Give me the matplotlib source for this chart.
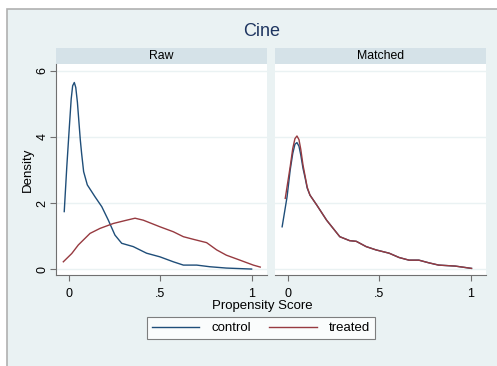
import matplotlib
matplotlib.use('Agg')
import matplotlib.pyplot as plt
from matplotlib.patches import Rectangle

plt.rcParams['font.family'] = ['Liberation Sans', 'DejaVu Sans']

# Raw panel
raw_ctrl_x = [-0.026, -0.012, 0.002, 0.012, 0.02, 0.029, 0.037, 0.046, 0.055, 0.062, 0.069,
              0.08, 0.10, 0.142, 0.179, 0.215, 0.251, 0.288, 0.351, 0.424, 0.497, 0.57,
              0.625, 0.698, 0.77, 0.86, 0.998]
raw_ctrl_y = [1.74, 3.1, 4.31, 5.15, 5.55, 5.65, 5.5, 5.05, 4.4, 3.9, 3.5,
              2.95, 2.55, 2.19, 1.89, 1.48, 1.03, 0.78, 0.68, 0.48, 0.37, 0.22,
              0.12, 0.12, 0.07, 0.03, 0.0]
raw_trt_x = [-0.031, 0.015, 0.051, 0.115, 0.169, 0.242, 0.315, 0.361, 0.406, 0.497, 0.57,
             0.625, 0.68, 0.752, 0.807, 0.86, 0.934, 1.007, 1.045]
raw_trt_y = [0.22, 0.47, 0.73, 1.08, 1.23, 1.38, 1.48, 1.54, 1.48, 1.28, 1.13,
             0.98, 0.90, 0.80, 0.58, 0.42, 0.27, 0.12, 0.06]

# Matched panel
tail_x = [0.12, 0.157, 0.211, 0.283, 0.337, 0.373, 0.427, 0.481, 0.553, 0.607, 0.661,
          0.715, 0.769, 0.823, 0.914, 1.003]
tail_y = [2.24, 1.94, 1.48, 0.98, 0.86, 0.84, 0.68, 0.58, 0.48, 0.35, 0.27,
          0.27, 0.19, 0.12, 0.09, 0.02]
m_ctrl_x = [-0.032, -0.005, 0.012, 0.026, 0.038, 0.049, 0.06, 0.07, 0.082, 0.094, 0.105] + tail_x
m_ctrl_y = [1.28, 2.19, 3.0, 3.5, 3.78, 3.83, 3.72, 3.45, 3.05, 2.75, 2.45] + tail_y
m_trt_x = [-0.015, 0.012, 0.026, 0.038, 0.049, 0.06, 0.07, 0.082, 0.094, 0.105] + tail_x
m_trt_y = [2.14, 3.1, 3.65, 3.95, 4.03, 3.92, 3.62, 3.15, 2.8, 2.48] + tail_y

panels = ['Raw', 'Matched']
series = [[(raw_ctrl_x, raw_ctrl_y), (raw_trt_x, raw_trt_y)],
          [(m_ctrl_x, m_ctrl_y), (m_trt_x, m_trt_y)]]
labels = ['control', 'treated']
colors = ['#1f4e79', '#973a40']

bg = '#eaf2f3'
strip = '#d5e2e8'

W, H = 497, 366
fig = plt.figure(figsize=(W / 100, H / 100), dpi=100, facecolor='white')
fig.patches.append(Rectangle((7 / W, -0.1), 1.2, 1 - 9 / H + 0.1, transform=fig.transFigure,
                             facecolor=bg, edgecolor='#b0b0b0', linewidth=1.2, zorder=-10))

lefts = [56, 275]
for i, name in enumerate(panels):
    ax = fig.add_axes([lefts[i] / W, 1 - 275 / H, 211 / W, 211 / H])
    ax.set_facecolor('white')
    for (x, y), lab, c in zip(series[i], labels, colors):
        ax.plot(x, y, color=c, lw=1.0, label=lab)
    ax.set_xlim(-0.071, 1.082)
    ax.set_ylim(-0.18, 6.21)
    ax.set_xticks([0, 0.5, 1])
    ax.set_xticklabels(['0', '.5', '1'])
    ax.set_yticks([0, 2, 4, 6])
    ax.grid(axis='y', color=bg, lw=1.0)
    ax.set_axisbelow(True)
    for s in ['top', 'right']:
        ax.spines[s].set_visible(False)
    ax.spines['bottom'].set_color('#707070')
    ax.spines['left'].set_color('#707070')
    ax.tick_params(colors='#707070', labelcolor='black', labelsize=9, length=4.5, width=0.8)
    ax.tick_params(axis='x', pad=5)
    ax.tick_params(axis='y', pad=1)
    if i == 0:
        ax.set_yticklabels(['0', '2', '4', '6'], rotation=90, va='center')
        ax.set_ylabel('Density', fontsize=9.5, labelpad=2)
    else:
        ax.spines['left'].set_visible(False)
        ax.tick_params(axis='y', left=False, labelleft=False)
    # strip header
    ax.add_patch(Rectangle((0, 1), 1, 16 / 211, transform=ax.transAxes, clip_on=False,
                           facecolor=strip, edgecolor='none'))
    ax.text(0.5, 1 + 8 / 211, name, transform=ax.transAxes, ha='center', va='center',
            fontsize=8.8)
    if i == 0:
        handles = ax.get_legend_handles_labels()

fig.text(262 / W, 1 - 32 / H, 'Cine', ha='center', va='center', fontsize=13, color='#1e3560')
fig.text(262 / W, 1 - 306 / H, 'Propensity Score', ha='center', va='center', fontsize=9.5)

leg = fig.legend(*handles, loc='center', bbox_to_anchor=(261 / W, 1 - 328 / H), ncol=2,
                 fontsize=9.5, frameon=True, fancybox=False, handlelength=3.6,
                 columnspacing=1.4, handletextpad=0.9, borderpad=0.4)
leg.get_frame().set_edgecolor('#606060')
leg.get_frame().set_linewidth(0.8)

fig.savefig('out.png', dpi=100, facecolor='white')
